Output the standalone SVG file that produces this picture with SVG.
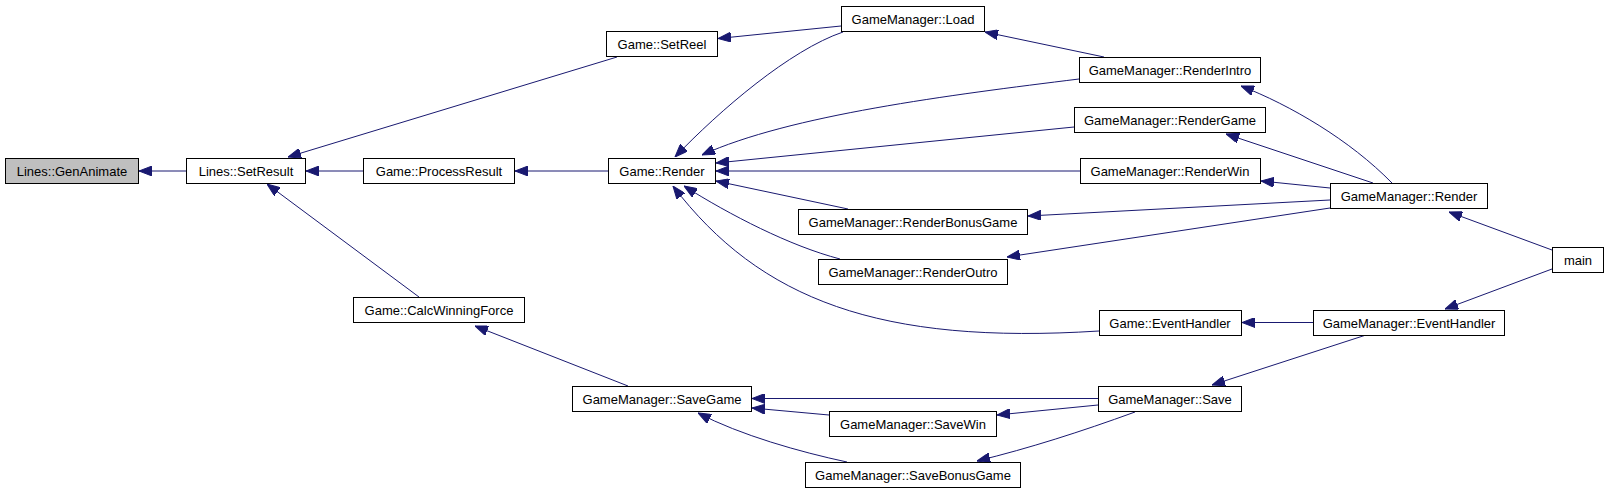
<svg xmlns="http://www.w3.org/2000/svg" width="1608" height="493" viewBox="0 0 1608 493">
<style>
.n rect{fill:#fff;stroke:#000;stroke-width:1}
.n.hl rect{fill:#bfbfbf}
.n text{font-family:"Liberation Sans",Arial,sans-serif;font-size:13px;fill:#000;text-anchor:middle}
.e path{fill:none;stroke:#191970;stroke-width:1;marker-end:url(#ah)}
</style>
<defs>
<marker id="ah" viewBox="0 0 13 10" refX="13" refY="5" markerWidth="13" markerHeight="10" markerUnits="userSpaceOnUse" orient="auto">
<path d="M0,0 L13,5 L0,10 z" fill="#191970" stroke="#191970" stroke-width="1"/>
</marker>
</defs>
<rect width="1608" height="493" fill="#fff"/>
<g id="edges" class="e">
<path d="M186,171 L139,171"/>
<path d="M363,171 L306,171"/>
<path d="M617,57 L288,157"/>
<path d="M419,297 L267,184"/>
<path d="M608,171 L515,171"/>
<path d="M841,26 L718,38.5"/>
<path d="M843,32 C790,50 720,110 675,157"/>
<path d="M1104,57 L985,32"/>
<path d="M1079,79 C950,95 790,115 702,155"/>
<path d="M1074,127 L716,163"/>
<path d="M1080,171 L716,171"/>
<path d="M848,209 L716,181"/>
<path d="M840,259 C790,246 730,215 684,186"/>
<path d="M1099,331 C880,345 760,300 673,186"/>
<path d="M1392,183 C1350,140 1290,105 1241,86"/>
<path d="M1373,183 L1226,134"/>
<path d="M1330,188 L1261,181"/>
<path d="M1330,200 L1028,216"/>
<path d="M1330,208 L1007,257"/>
<path d="M1552,250 L1449,212"/>
<path d="M1552,269 L1445,309"/>
<path d="M1313,322.5 L1242,322.5"/>
<path d="M1366,335 L1212,385"/>
<path d="M628,386 L475,326"/>
<path d="M1098,398.5 L752,398.5"/>
<path d="M829,415 L752,408"/>
<path d="M1098,405 L997,415"/>
<path d="M847,462 C800,452 740,435 698,413"/>
<path d="M1135,412 C1080,432 1030,448 977,461"/>
</g>
<g id="n1" class="n hl"><rect x="5.5" y="158.5" width="133" height="25"/><text x="72" y="175.5">Lines::GenAnimate</text></g>
<g id="n2" class="n"><rect x="186.5" y="158.5" width="119" height="25"/><text x="246" y="175.5">Lines::SetResult</text></g>
<g id="n3" class="n"><rect x="363.5" y="158.5" width="151" height="25"/><text x="439" y="175.5">Game::ProcessResult</text></g>
<g id="n4" class="n"><rect x="608.5" y="158.5" width="107" height="25"/><text x="662" y="175.5">Game::Render</text></g>
<g id="n5" class="n"><rect x="606.5" y="31.5" width="111" height="25"/><text x="662" y="48.5">Game::SetReel</text></g>
<g id="n6" class="n"><rect x="841.5" y="6.5" width="143" height="25"/><text x="913" y="23.5">GameManager::Load</text></g>
<g id="n7" class="n"><rect x="1079.5" y="57.5" width="181" height="25"/><text x="1170" y="74.5">GameManager::RenderIntro</text></g>
<g id="n8" class="n"><rect x="1074.5" y="107.5" width="191" height="25"/><text x="1170" y="124.5">GameManager::RenderGame</text></g>
<g id="n9" class="n"><rect x="1080.5" y="158.5" width="180" height="25"/><text x="1170" y="175.5">GameManager::RenderWin</text></g>
<g id="n10" class="n"><rect x="798.5" y="209.5" width="229" height="25"/><text x="913" y="226.5">GameManager::RenderBonusGame</text></g>
<g id="n11" class="n"><rect x="818.5" y="259.5" width="189" height="25"/><text x="913" y="276.5">GameManager::RenderOutro</text></g>
<g id="n12" class="n"><rect x="1330.5" y="183.5" width="157" height="25"/><text x="1409" y="200.5">GameManager::Render</text></g>
<g id="n13" class="n"><rect x="1552.5" y="247.5" width="51" height="25"/><text x="1578" y="264.5">main</text></g>
<g id="n14" class="n"><rect x="1099.5" y="310.5" width="142" height="25"/><text x="1170" y="327.5">Game::EventHandler</text></g>
<g id="n15" class="n"><rect x="1313.5" y="310.5" width="191" height="25"/><text x="1409" y="327.5">GameManager::EventHandler</text></g>
<g id="n16" class="n"><rect x="353.5" y="297.5" width="171" height="25"/><text x="439" y="314.5">Game::CalcWinningForce</text></g>
<g id="n17" class="n"><rect x="572.5" y="386.5" width="179" height="25"/><text x="662" y="403.5">GameManager::SaveGame</text></g>
<g id="n18" class="n"><rect x="1098.5" y="386.5" width="143" height="25"/><text x="1170" y="403.5">GameManager::Save</text></g>
<g id="n19" class="n"><rect x="829.5" y="411.5" width="167" height="25"/><text x="913" y="428.5">GameManager::SaveWin</text></g>
<g id="n20" class="n"><rect x="805.5" y="462.5" width="215" height="25"/><text x="913" y="479.5">GameManager::SaveBonusGame</text></g>
</svg>
